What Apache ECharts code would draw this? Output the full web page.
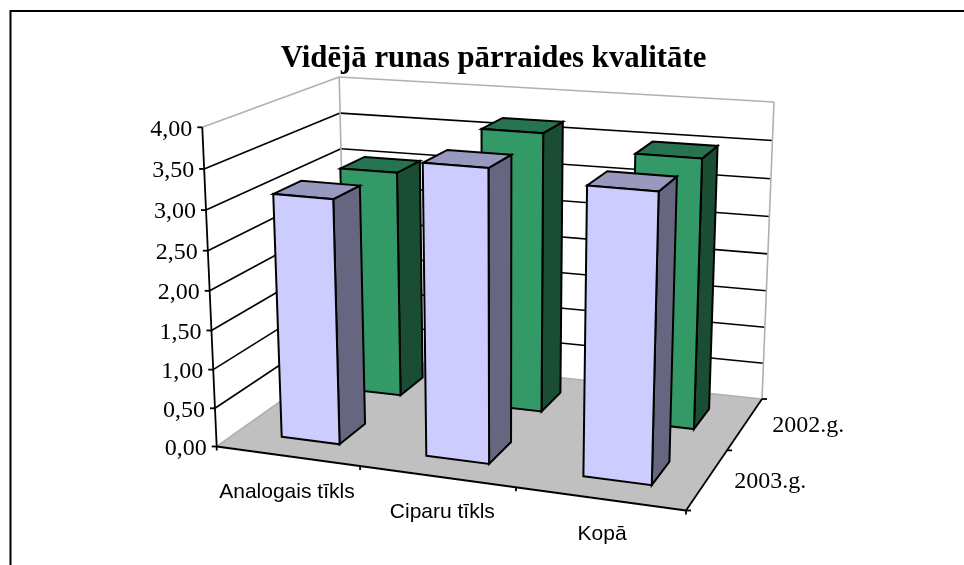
<!DOCTYPE html>
<html><head><meta charset="utf-8">
<script src="https://cdn.jsdelivr.net/npm/echarts@6/dist/echarts.min.js"></script>
<style>html,body{margin:0;padding:0;background:#fff}#c{width:964px;height:565px}</style>
</head><body><div id="c"></div>
<script>
const titleText = 'Vidējā runas pārraides kvalitāte';
const categories = ['Analogais tīkls', 'Ciparu tīkls', 'Kopā'];
const depthLabels = ['2003.g.', '2002.g.'];
const values2003 = [3.12, 3.65, 3.54];
const values2002 = [3.04, 3.69, 3.51];
const yTicks = [0, 0.5, 1, 1.5, 2, 2.5, 3, 3.5, 4];
const yTickLabels = ['0,00', '0,50', '1,00', '1,50', '2,00', '2,50', '3,00', '3,50', '4,00'];

// Camera of the 3D box: floor corners (front-left, front-right, back-right, back-left),
// vanishing point of the vertical direction, screen y of the top of the front-left edge,
// and how column height foreshortens along the two floor directions.
const floorQuad = [[216.7, 446.5], [686, 510.5], [762, 399], [346, 355]];
const vertVP = [503.6, 6790];
const topFrontLeftY = 127.3;
const heightG = -0.0784, heightH = 0.157;
const GAP_U0 = 0.315, GAP_U1 = 0.275, GAP_V = 0.30;
const catLabelDx = [0, 6, 3];

function makeProjection(q) {
  const [p0, p1, p2, p3] = q;
  const dx1 = p1[0] - p2[0], dx2 = p3[0] - p2[0], sx = p0[0] - p1[0] + p2[0] - p3[0];
  const dy1 = p1[1] - p2[1], dy2 = p3[1] - p2[1], sy = p0[1] - p1[1] + p2[1] - p3[1];
  const det = dx1 * dy2 - dx2 * dy1;
  const g = (sx * dy2 - dx2 * sy) / det, h = (dx1 * sy - sx * dy1) / det;
  const a = p1[0] - p0[0] + g * p1[0], b = p3[0] - p0[0] + h * p3[0], c = p0[0];
  const e = p1[1] - p0[1] + g * p1[1], f = p3[1] - p0[1] + h * p3[1], i = p0[1];
  const d = (topFrontLeftY - p0[1]) / (vertVP[1] - topFrontLeftY);
  return (u, v, w) => {
    const q0 = g * u + h * v + 1;
    const Fx = (a * u + b * v + c) / q0, Fy = (e * u + f * v + i) / q0;
    const s = 1 + heightG * u + heightH * v;
    const t = s + d * w;
    return [(Fx * s + d * w * vertVP[0]) / t, (Fy * s + d * w * vertVP[1]) / t];
  };
}
const project = makeProjection(floorQuad);

// Normalised position through the library's axes
function norm(api, params, cat, val) {
  const p = api.coord([cat, val]);
  const cs = params.coordSys;
  return [(p[0] - cs.x) / cs.width, (cs.y + cs.height - p[1]) / cs.height];
}
const line = (a, b, stroke, lineWidth) => ({ type: 'line', shape: { x1: a[0], y1: a[1], x2: b[0], y2: b[1] }, style: { stroke, lineWidth } });
const poly = (pts, fill, stroke, lineWidth) => ({ type: 'polygon', shape: { points: pts }, style: { fill, stroke: stroke || null, lineWidth: lineWidth || 0, lineJoin: 'miter' } });
const text = (s, x, y, font, align) => ({ type: 'text', style: { text: s, x, y, font, fill: '#000', align: align || 'center', verticalAlign: 'middle' } });

function barRender(depth, colors) {
  return function (params, api) {
    const cat = api.value(0), val = api.value(1);
    const n = norm(api, params, cat, val);
    const uw = 1 / categories.length;
    const u0 = n[0] - uw / 2 + uw * GAP_U0, u1 = n[0] + uw / 2 - uw * GAP_U1;
    const v0 = (depth + GAP_V) / depthLabels.length, v1 = (depth + 1 - GAP_V) / depthLabels.length;
    const w = n[1];
    const f0 = project(u0, v0, 0), f1 = project(u1, v0, 0), f2 = project(u1, v1, 0);
    const t0 = project(u0, v0, w), t1 = project(u1, v0, w), t2 = project(u1, v1, w), t3 = project(u0, v1, w);
    return { type: 'group', children: [
      poly([f1, f2, t2, t1], colors.side, '#000', 2),
      poly([t0, t1, t2, t3], colors.top, '#000', 2),
      poly([f0, f1, t1, t0], colors.front, '#000', 2)
    ] };
  };
}

function wallsRender() {
  const c = [];
  c.push(poly([project(0,0,0), project(0,1,0), project(0,1,1), project(0,0,1)], '#fff'));
  c.push(poly([project(0,1,0), project(1,1,0), project(1,1,1), project(0,1,1)], '#fff'));
  c.push(poly([project(0,0,0), project(1,0,0), project(1,1,0), project(0,1,0)], '#c0c0c0'));
  yTicks.forEach(t => {
    const w = t / yTicks[yTicks.length - 1];
    if (t > 0 && w < 1) {
      c.push(line(project(0,0,w), project(0,1,w), '#000', 1.6));
      c.push(line(project(0,1,w), project(1,1,w), '#000', 1.6));
    }
  });
  const g = '#b0b0b0';
  c.push(line(project(0,0,0), project(0,1,0), g, 1.6));
  c.push(line(project(0,1,0), project(1,1,0), g, 1.6));
  c.push(line(project(0,1,0), project(0,1,1), g, 1.6));
  c.push(line(project(1,1,0), project(1,1,1), g, 1.6));
  c.push(line(project(0,0,1), project(0,1,1), g, 1.6));
  c.push(line(project(0,1,1), project(1,1,1), g, 1.6));
  return { type: 'group', children: c };
}

function axesRender() {
  const c = [];
  c.push(line(project(0,0,0), project(0,0,1), '#000', 1.8));
  c.push(line(project(0,0,0), project(1,0,0), '#000', 1.8));
  c.push(line(project(1,0,0), project(1,1,0), '#000', 1.8));
  yTicks.forEach((t, i) => {
    const p = project(0,0,t / yTicks[yTicks.length - 1]);
    c.push(line([p[0] - 5, p[1]], p, '#000', 1.8));
    c.push(text(yTickLabels[i], p[0] - 10, p[1] + 2, '24px "Liberation Serif"', 'right'));
  });
  categories.forEach((s, i) => {
    const p = project((i + 0.5) / categories.length, 0, 0);
    c.push(text(s, p[0] + catLabelDx[i], p[1] + 36, '21px "Liberation Sans"'));
  });
  for (let i = 0; i <= categories.length; i++) {
    const p = project(i / categories.length, 0, 0);
    c.push(line(p, [p[0], p[1] + 4], '#000', 1.8));
  }
  depthLabels.forEach((s, i) => {
    const p = project(1, (i + 0.5) / depthLabels.length, 0);
    c.push(text(s, p[0] + 63, p[1] + 2, '24px "Liberation Serif"'));
  });
  for (let i = 0; i <= depthLabels.length; i++) {
    const p = project(1, i / depthLabels.length, 0);
    c.push(line(p, [p[0] + 5, p[1]], '#000', 1.8));
  }
  return { type: 'group', children: c };
}

const green = { front: '#339966', top: '#267350', side: '#1a4d33' };
const lav = { front: '#ccccff', top: '#9999bf', side: '#666680' };
const toData = arr => arr.map((v, i) => [i, v]);

const chart = echarts.init(document.getElementById('c'), null, { renderer: 'canvas' });
chart.setOption({
  animation: false,
  backgroundColor: '#fff',
  title: { text: titleText, left: 488.5, top: 39, textAlign: 'center',
    textStyle: { fontFamily: 'Liberation Serif', fontWeight: 'bold', fontSize: 30.8, color: '#000' } },
  grid: { left: 100, right: 100, top: 100, bottom: 100 },
  xAxis: { type: 'category', data: categories, show: false },
  yAxis: { type: 'value', min: 0, max: 4, interval: 0.5, show: false },
  graphic: [
    { type: 'line', shape: { x1: 10.5, y1: 11, x2: 964, y2: 11 }, style: { stroke: '#000', lineWidth: 2 } },
    { type: 'line', shape: { x1: 10.5, y1: 10, x2: 10.5, y2: 565 }, style: { stroke: '#000', lineWidth: 2 } }
  ],
  series: [
    { type: 'custom', silent: true, renderItem: wallsRender, data: [[0, 0]], z: 1, clip: false },
    { type: 'custom', silent: true, name: '2002.g.', renderItem: barRender(1, green), data: toData(values2002), z: 2, clip: false },
    { type: 'custom', silent: true, renderItem: axesRender, data: [[0, 0]], z: 3, clip: false },
    { type: 'custom', silent: true, name: '2003.g.', renderItem: barRender(0, lav), data: toData(values2003), z: 4, clip: false }
  ]
});
</script></body></html>
